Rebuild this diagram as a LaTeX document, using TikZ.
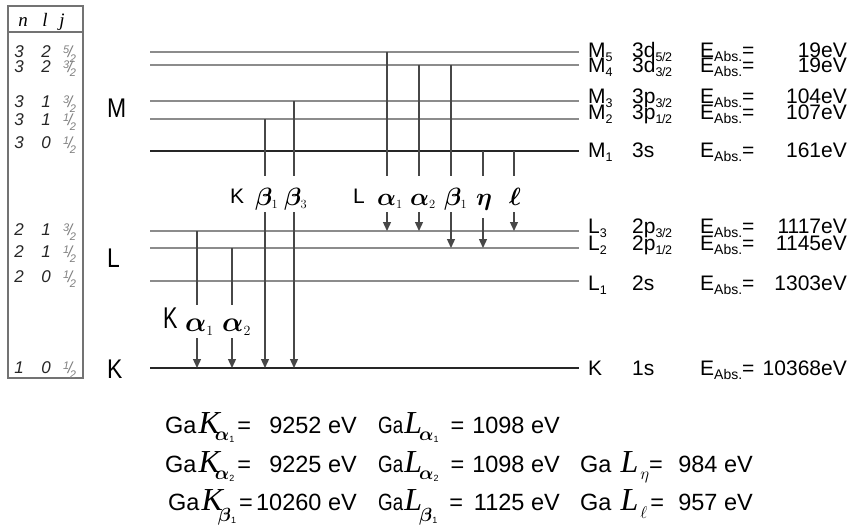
\RequirePackage{fix-cm}
\documentclass[tikz,border=0pt]{standalone}
\usepackage{fontspec}
\usepackage{graphicx}
\usepackage{bm}
\setmainfont{Liberation Sans}
\newfontfamily\serifface{Liberation Serif}
\usetikzlibrary{arrows.meta}
\newcommand{\fs}[1]{\fontsize{#1}{#1}\selectfont}
\newcommand{\hfr}[2]{{\color{black!50}\itshape\raisebox{4pt}{\fs{11}#1}\kern-1.5pt{\fs{16}/}\kern-2.5pt\raisebox{-5pt}{\fs{11}#2}}}
\newcommand{\lsub}[1]{\raisebox{-4pt}{\fs{12.5}#1}}
\newcommand{\osub}[1]{\raisebox{-4pt}{\fs{12.5}#1}}
\newcommand{\half}[1]{\osub{#1\kern-0.5pt/\kern-0.5pt2}}
\newcommand{\EAbs}{E\raisebox{-4pt}{\fs{14}Abs.}=}
\newcommand{\GK}[3]{Ga\kern2pt{\serifface\itshape\fs{32}K}\kern-5pt\raisebox{#3}{\fs{19}$\bm{#1}$\raisebox{-2pt}{\fs{9}#2}}\kern3pt=}
\newcommand{\GL}[3]{\scalebox{0.8}[1]{Ga}\kern1pt{\serifface\itshape\fs{32}L}\kern-3pt\raisebox{#3}{\fs{19}$\bm{#1}$\raisebox{-2pt}{\fs{9}#2}}\kern12pt=}
\begin{document}
\begin{tikzpicture}[x=1pt,y=-1pt,
  lvl/.style={draw=black!45, line width=1.6pt},
  lvldark/.style={draw=black!85, line width=1.8pt},
  tr/.style={draw=black!72, line width=1.3pt},
  tra/.style={tr, -{Triangle[width=8pt,length=9pt]}},
  tab/.style={font=\fs{17}\itshape, text=black!85, inner sep=0pt, anchor=base},
  tabf/.style={inner sep=0pt, anchor=base west},
  hdr/.style={font=\fs{19}\serifface\itshape, inner sep=0pt, anchor=base},
  shell/.style={font=\fs{27}, inner sep=0pt, anchor=base west, xscale=0.85},
  rlab/.style={font=\fs{21}, inner sep=0pt, anchor=base west},
  rval/.style={font=\fs{21}, inner sep=0pt, anchor=base east},
  gk/.style={font=\fs{25}, inner sep=0pt, anchor=base west},
  bot/.style={font=\fs{23.5}, inner sep=0pt, anchor=base west},
  botv/.style={font=\fs{23.5}, inner sep=0pt, anchor=base east}
]
\useasboundingbox (0,0) rectangle (848,527);
% table
\draw[draw=black!55, line width=1.5pt] (8,6) rectangle (83,378);
\draw[draw=black!55, line width=1.5pt] (8,32) -- (83,32);
\node[hdr] (hn) at (23,27) {n};
\node[hdr] (hl) at (45,27) {l};
\node[hdr] (hj) at (62,27) {j};
\foreach \i/\n/\l/\a/\b/\y in {1/3/2/5/2/58, 2/3/2/3/2/72, 3/3/1/3/2/107, 4/3/1/1/2/125, 5/3/0/1/2/148, 6/2/1/3/2/235, 7/2/1/1/2/257, 8/2/0/1/2/282, 9/1/0/1/2/373}{
  \node[tab] (tn\i) at (19,\y) {\n};
  \node[tab] (tl\i) at (46,\y) {\l};
  \node[tabf] (tj\i) at (63,\y) {\hfr{\a}{\b}};
}
% shell labels
\node[shell] (sM) at (107,117) {M};
\node[shell] (sL) at (107,267) {L};
\node[shell] (sK) at (107,378) {K};
% levels
\foreach \n/\y in {M5/52, M4/65, M3/101, M2/119, L3/231, L2/248, L1/281}{
  \coordinate (\n a) at (150,\y);
  \coordinate (\n b) at (579,\y);
  \draw[lvl] (\n a) -- (\n b);
}
\coordinate (M1a) at (150,151); \coordinate (M1b) at (579,151);
\coordinate (Ka) at (150,368); \coordinate (Kb) at (579,368);
\draw[lvldark] (M1a) -- (M1b);
\draw[lvldark] (Ka) -- (Kb);
% right labels
\foreach \i/\nm/\sb/\orb/\val/\y in {
  1/M/5/3d\half{5}/19eV/57,
  2/M/4/3d\half{3}/19eV/73,
  3/M/3/3p\half{3}/104eV/103,
  4/M/2/3p\half{1}/107eV/119,
  5/M/1/3s/161eV/157,
  6/L/3/2p\half{3}/1117eV/233,
  7/L/2/2p\half{1}/1145eV/250,
  8/L/1/2s/1303eV/290}{
  \node[rlab] (rn\i) at (588,\y) {\nm\lsub{\sb}};
  \node[rlab] (ro\i) at (632,\y) {\orb};
  \node[rlab] (re\i) at (700,\y) {\EAbs};
  \node[rval] (rv\i) at (847,\y) {\val};
}
\node[rlab] (rn9) at (588,375) {K};
\node[rlab] (ro9) at (632,375) {1s};
\node[rlab] (re9) at (700,375) {\EAbs};
\node[rval] (rv9) at (847,375) {10368eV};
% transition x positions and gaps
\coordinate (xKa1) at (197,0); \coordinate (xKa2) at (232,0);
\coordinate (xKb1) at (265,0); \coordinate (xKb3) at (294,0);
\coordinate (xLa1) at (387,0); \coordinate (xLa2) at (419,0);
\coordinate (xLb1) at (451,0); \coordinate (xLe) at (483,0);
\coordinate (xLl) at (514,0);
\coordinate (gKt) at (0,305); \coordinate (gKb) at (0,338);
\coordinate (gUt) at (0,176); \coordinate (gUb) at (0,212);
\coordinate (gUe) at (0,218);
% K series
\draw[tr] (xKa1 |- L3a) -- (xKa1 |- gKt);
\draw[tra] (xKa1 |- gKb) -- (xKa1 |- Ka);
\draw[tr] (xKa2 |- L2a) -- (xKa2 |- gKt);
\draw[tra] (xKa2 |- gKb) -- (xKa2 |- Ka);
\draw[tr] (xKb1 |- M2a) -- (xKb1 |- gUt);
\draw[tra] (xKb1 |- gUb) -- (xKb1 |- Ka);
\draw[tr] (xKb3 |- M3a) -- (xKb3 |- gUt);
\draw[tra] (xKb3 |- gUb) -- (xKb3 |- Ka);
% L series
\draw[tr] (xLa1 |- M5a) -- (xLa1 |- gUt);
\draw[tra] (xLa1 |- gUb) -- (xLa1 |- L3a);
\draw[tr] (xLa2 |- M4a) -- (xLa2 |- gUt);
\draw[tra] (xLa2 |- gUb) -- (xLa2 |- L3a);
\draw[tr] (xLb1 |- M4a) -- (xLb1 |- gUt);
\draw[tra] (xLb1 |- gUb) -- (xLb1 |- L2a);
\draw[tr] (xLe |- M1a) -- (xLe |- gUt);
\draw[tra] (xLe |- gUe) -- (xLe |- L2a);
\draw[tr] (xLl |- M1a) -- (xLl |- gUt);
\draw[tra] (xLl |- gUb) -- (xLl |- L3a);
% transition labels
\node[gk, font=\fs{21}] (tK) at (230,203) {K};
\node[gk] (tKb1) at (255,205) {$\bm{\beta}_{\scriptscriptstyle 1}$};
\node[gk] (tKb3) at (284,205) {$\bm{\beta}_{\scriptscriptstyle 3}$};
\node[gk, font=\fs{21}] (tL) at (353,203) {L};
\node[gk] (tLa1) at (377,205) {$\bm{\alpha}_{\scriptscriptstyle 1}$};
\node[gk] (tLa2) at (410,205) {$\bm{\alpha}_{\scriptscriptstyle 2}$};
\node[gk] (tLb1) at (444,205) {$\bm{\beta}_{\scriptscriptstyle 1}$};
\node[gk] (tLe) at (476,205) {$\bm{\eta}$};
\node[gk] (tLl) at (509,205) {$\bm{\ell}$};
\node[gk, font=\fs{30}, xscale=0.72] (tK2) at (163,328) {K};
\node[gk, font=\fs{28}] (tKa1) at (185,331) {$\bm{\alpha}_{\scriptscriptstyle 1}$};
\node[gk, font=\fs{28}] (tKa2) at (222,331) {$\bm{\alpha}_{\scriptscriptstyle 2}$};
% bottom energies
\node[bot] (bK1) at (165,433) {\GK{\alpha}{1}{-7pt}};
\node[botv] (vK1) at (357,433) {9252 eV};
\node[bot] (bK2) at (165,472) {\GK{\alpha}{2}{-7pt}};
\node[botv] (vK2) at (357,472) {9225 eV};
\node[bot] (bK3) at (168,510) {\GK{\beta}{1}{-11pt}};
\node[botv] (vK3) at (357,510) {10260 eV};
\node[bot] (bL1) at (378,433) {\GL{\alpha}{1}{-7pt}};
\node[botv] (vL1) at (560,433) {1098 eV};
\node[bot] (bL2) at (378,472) {\GL{\alpha}{2}{-7pt}};
\node[botv] (vL2) at (560,472) {1098 eV};
\node[bot] (bL3) at (378,510) {\GL{\beta}{1}{-11pt}};
\node[botv] (vL3) at (560,510) {1125 eV};
\node[bot] (bL4) at (580,472) {Ga\kern9pt{\serifface\itshape\fs{32}L}\kern2pt\raisebox{-7pt}{\fs{17}$\eta$}\kern0pt=};
\node[botv] (vL4) at (753,472) {984 eV};
\node[bot] (bL5) at (580,510) {Ga\kern9pt{\serifface\itshape\fs{32}L}\kern2pt\raisebox{-8pt}{\fs{17}$\ell$}\kern3pt=};
\node[botv] (vL5) at (753,510) {957 eV};
\end{tikzpicture}
\end{document}
